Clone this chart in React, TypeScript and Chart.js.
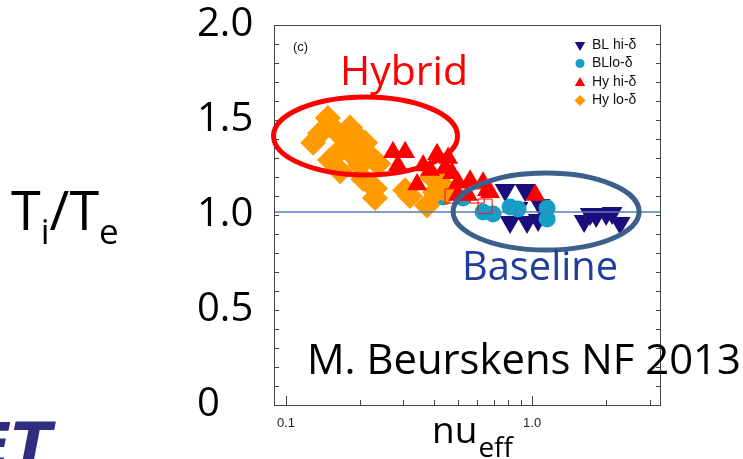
import React, { useEffect, useRef } from "react";
import { Chart, registerables } from "chart.js";

Chart.register(...registerables);

// ---- axes ----
const X_MIN = 0.0894;
const X_MAX = 3.34;
const Y_MIN = 0;
const Y_MAX = 2.0;
const X_TICKS = [0.1, 0.2, 0.3, 0.4, 0.5, 0.6, 0.7, 0.8, 0.9, 1, 2, 3];
const X_MAJOR = [0.1, 1];
const X_TICK_LABELS = ["0.1", "1.0"];
const Y_STEP = 0.1;
const Y_LABEL_VALUES = [0, 0.5, 1.0, 1.5, 2.0];
const Y_TICK_LABELS = ["0", "0.5", "1.0", "1.5", "2.0"];
const REF_LINE_Y = 1.016;

// ---- series ----
const SERIES_NAMES = ["BL hi-δ", "BLlo-δ", "Hy hi-δ", "Hy lo-δ"];

// BL hi-delta (navy, down triangles)
const blHiX = [0.777, 0.937, 0.814, 0.954, 1.058, 1.078, 0.877, 1.627, 1.821, 1.999, 2.279, 2.114, 1.721];
const blHiY = [1.132, 1.132, 0.963, 0.963, 0.974, 1.053, 1.037, 0.968, 0.995, 1.005, 0.958, 1.011, 1.005];

// BL lo-delta (cyan circles)
const blLoX = [0.632, 0.694, 0.814, 0.877, 1.151, 1.151, 0.524, 0.435];
const blLoY = [1.016, 1.005, 1.042, 1.032, 1.037, 0.979, 1.089, 1.095];

// Hy hi-delta (red up triangles)
const hyHiX = [0.272, 0.305, 0.285, 0.361, 0.411, 0.456, 0.473, 0.5, 0.56, 0.632, 0.656, 0.5, 0.549, 0.341, 0.675, 1.03, 0.443, 0.385];
const hyHiY = [1.33, 1.33, 1.26, 1.26, 1.32, 1.3, 1.22, 1.17, 1.18, 1.17, 1.13, 1.105, 1.105, 1.16, 1.12, 1.105, 1.247, 1.237];

// Hy lo-delta (orange diamonds)
const hyLoX = [0.148, 0.1375, 0.129, 0.163, 0.182, 0.196, 0.21, 0.163, 0.182, 0.204, 0.224, 0.237, 0.166, 0.206, 0.23, 0.23, 0.305, 0.319, 0.374, 0.392, 0.423, 0.403, 0.451, 0.174, 0.191, 0.151, 0.2];
const hyLoY = [1.51, 1.43, 1.38, 1.43, 1.46, 1.41, 1.38, 1.33, 1.33, 1.33, 1.3, 1.27, 1.23, 1.19, 1.14, 1.09, 1.13, 1.1, 1.05, 1.2, 1.17, 1.12, 1.12, 1.395, 1.353, 1.29, 1.263];

// open red squares (not in legend)
const sqX = [0.473, 0.598, 0.644];
const sqY = [1.1, 1.1, 1.047];

const COLORS = {
  blHi: "#1b0e7c",
  blLo: "#14a0c6",
  hyHi: "#ff0000",
  hyLo: "#ff9a00",
  ref: "#4f81bd",
};

// annotation ellipses (centres in data units)
const ELLIPSE_CX = [0.2105, 1.14];
const ELLIPSE_CY = [1.416, 1.018];

const zip = (xs: number[], ys: number[]) => xs.map((x, i) => ({ x, y: ys[i] }));

function tri(ctx: CanvasRenderingContext2D, x: number, y: number, r: number, down: boolean) {
  const s = down ? -1 : 1;
  ctx.beginPath();
  ctx.moveTo(x, y - s * r);
  ctx.lineTo(x + r * 0.866, y + s * r * 0.5);
  ctx.lineTo(x - r * 0.866, y + s * r * 0.5);
  ctx.closePath();
  ctx.fill();
}

const overlay = {
  id: "overlay",
  afterDatasetsDraw(chart: any) {
    const { ctx, chartArea: a, scales } = chart;
    const xs = scales.x;
    const ys = scales.y;
    ctx.save();
    ctx.strokeStyle = "#444";
    ctx.lineWidth = 1;
    ctx.strokeRect(a.left + 0.5, a.top + 0.5, a.right - a.left - 1, a.bottom - a.top);
    const line = (x1: number, y1: number, x2: number, y2: number) => {
      ctx.beginPath();
      ctx.moveTo(x1, y1);
      ctx.lineTo(x2, y2);
      ctx.stroke();
    };
    ys.ticks.forEach((t: any) => {
      const py = Math.round(ys.getPixelForValue(t.value)) + 0.5;
      line(a.left, py, a.left + 5, py);
      line(a.right - 5, py, a.right, py);
    });
    X_TICKS.forEach((v) => {
      const px = Math.round(xs.getPixelForValue(v)) + 0.5;
      const len = X_MAJOR.includes(v) ? 9 : 5;
      line(px, a.bottom, px, a.bottom - len);
    });
    const ell = [
      { rx: 92, ry: 39, color: "#ff0000" },
      { rx: 93, ry: 38.5, color: "#3d5f8c" },
    ];
    ell.forEach((e, i) => {
      const cx = xs.getPixelForValue(ELLIPSE_CX[i]);
      const cy = ys.getPixelForValue(ELLIPSE_CY[i]);
      ctx.beginPath();
      ctx.ellipse(cx, cy, e.rx, e.ry, 0, 0, Math.PI * 2);
      ctx.strokeStyle = e.color;
      ctx.lineWidth = 5;
      ctx.stroke();
    });
    ctx.restore();
  },
  afterDraw(chart: any) {
    const { ctx } = chart;
    ctx.save();
    ctx.textBaseline = "alphabetic";
    ctx.textAlign = "left";
    const SLIDE = "'Open Sans', sans-serif";
    const fit = (text: string, x: number, base: number, width: number, color: string) => {
      ctx.font = `40px ${SLIDE}`;
      const w = ctx.measureText(text).width;
      const size = (40 * width) / w;
      ctx.font = `${size}px ${SLIDE}`;
      ctx.fillStyle = color;
      ctx.fillText(text, x, base);
    };
    fit("Hybrid", 340, 85, 128, "#ff0000");
    fit("Baseline", 462, 280, 156, "#1f3d99");
    fit("M. Beurskens NF 2013", 307, 374, 434, "#000");

    ctx.font = "13px 'Liberation Sans', Arial";
    ctx.fillStyle = "#111";
    ctx.fillText("(c)", 293, 51);

    const parts = [
      { t: "T", s: 54, dy: 0 },
      { t: "i", s: 35, dy: 14 },
      { t: "/", s: 54, dy: 0 },
      { t: "T", s: 54, dy: 0 },
      { t: "e", s: 35, dy: 14 },
    ];
    let tx = 11;
    ctx.fillStyle = "#000";
    parts.forEach((p) => {
      ctx.font = `${p.s}px ${SLIDE}`;
      ctx.fillText(p.t, tx, 230 + p.dy);
      tx += ctx.measureText(p.t).width;
    });

    ctx.font = `37px ${SLIDE}`;
    ctx.fillText("nu", 432, 443);
    const nw = ctx.measureText("nu").width;
    ctx.font = `28px ${SLIDE}`;
    ctx.fillText("eff", 432 + nw + 1, 457);

    const lx = 580;
    const rows = [45, 63.5, 82, 100.5];
    const cols = [COLORS.blHi, COLORS.blLo, COLORS.hyHi, COLORS.hyLo];
    rows.forEach((ry, i) => {
      ctx.fillStyle = cols[i];
      if (i === 0) tri(ctx, lx, ry, 6, true);
      if (i === 1) {
        ctx.beginPath();
        ctx.arc(lx, ry, 4.5, 0, Math.PI * 2);
        ctx.fill();
      }
      if (i === 2) tri(ctx, lx, ry + 1, 6, false);
      if (i === 3) {
        ctx.beginPath();
        ctx.moveTo(lx, ry - 5.5);
        ctx.lineTo(lx + 5.5, ry);
        ctx.lineTo(lx, ry + 5.5);
        ctx.lineTo(lx - 5.5, ry);
        ctx.closePath();
        ctx.fill();
      }
      ctx.fillStyle = "#111";
      ctx.font = "14px 'Liberation Sans', Arial";
      ctx.textBaseline = "middle";
      ctx.fillText(SERIES_NAMES[i], 592, ry);
      ctx.textBaseline = "alphabetic";
    });

    ctx.font = "italic bold 60px 'DejaVu Sans'";
    ctx.fillStyle = "#2e2d7f";
    ctx.fillText("ET", -30, 466);
    ctx.restore();
  },
};

export default function App() {
  const ref = useRef<HTMLCanvasElement>(null);
  useEffect(() => {
    const pt = (style: string, r: number, color: string, rot = 0) => ({
      pointStyle: style,
      pointRadius: r,
      pointHoverRadius: r,
      pointRotation: rot,
      backgroundColor: color,
      borderColor: color,
      pointBorderWidth: 0,
      borderWidth: 0,
      showLine: false,
    });
    const chart = new Chart(ref.current as HTMLCanvasElement, {
      type: "scatter",
      data: {
        datasets: [
          {
            label: "ref",
            data: [
              { x: X_MIN, y: REF_LINE_Y },
              { x: X_MAX, y: REF_LINE_Y },
            ],
            showLine: true,
            borderColor: COLORS.ref,
            borderWidth: 1.5,
            pointRadius: 0,
            order: 0,
          } as any,
          { label: "sq", data: zip(sqX, sqY), pointStyle: "rect", pointRadius: 10, backgroundColor: "rgba(0,0,0,0)", borderColor: "#ff0000", pointBorderWidth: 1, borderWidth: 1, order: 1 } as any,
          { label: SERIES_NAMES[2], data: zip(hyHiX, hyHiY), ...pt("triangle", 11.5, COLORS.hyHi), order: 2 } as any,
          { label: SERIES_NAMES[3], data: zip(hyLoX, hyLoY), ...pt("rectRot", 13, COLORS.hyLo), order: 3 } as any,
          { label: SERIES_NAMES[1], data: zip(blLoX, blLoY), ...pt("circle", 8.5, COLORS.blLo), order: 4 } as any,
          { label: SERIES_NAMES[0], data: zip(blHiX, blHiY), ...pt("triangle", 12, COLORS.blHi, 180), order: 5 } as any,
        ],
      },
      options: {
        responsive: false,
        animation: false,
        events: [],
        layout: { padding: { left: 197, top: 25, right: 82, bottom: 0 } },
        plugins: { legend: { display: false }, tooltip: { enabled: false } },
        scales: {
          x: {
            type: "logarithmic",
            min: X_MIN,
            max: X_MAX,
            grid: { display: false },
            border: { display: false },
            afterBuildTicks: (s: any) => {
              s.ticks = X_TICKS.map((v) => ({ value: v }));
            },
            afterFit: (s: any) => {
              s.height = 54;
            },
            ticks: {
              autoSkip: false,
              maxRotation: 0,
              padding: 3,
              color: "#222",
              font: { family: "'Liberation Sans', Arial", size: 13 },
              callback: (v: any) => {
                const i = X_MAJOR.findIndex((m) => Math.abs(m - Number(v)) < 1e-9);
                return i >= 0 ? X_TICK_LABELS[i] : "";
              },
            },
          },
          y: {
            type: "linear",
            min: Y_MIN,
            max: Y_MAX,
            grid: { display: false },
            border: { display: false },
            afterFit: (s: any) => {
              s.width = 77;
            },
            ticks: {
              stepSize: Y_STEP,
              autoSkip: false,
              padding: 0,
              crossAlign: "far",
              color: "#000",
              font: { family: "'Open Sans', sans-serif", size: 40 },
              callback: (v: any) => {
                const i = Y_LABEL_VALUES.findIndex((m) => Math.abs(m - Number(v)) < 1e-6);
                return i >= 0 ? Y_TICK_LABELS[i] : "";
              },
            },
          },
        },
      } as any,
      plugins: [overlay],
    });
    return () => chart.destroy();
  }, []);
  return (
    <div style={{ position: "fixed", left: 0, top: 0, width: 743, height: 459, background: "#fff" }}>
      <canvas ref={ref} width={743} height={459} style={{ display: "block", width: 743, height: 459 }} />
    </div>
  );
}
